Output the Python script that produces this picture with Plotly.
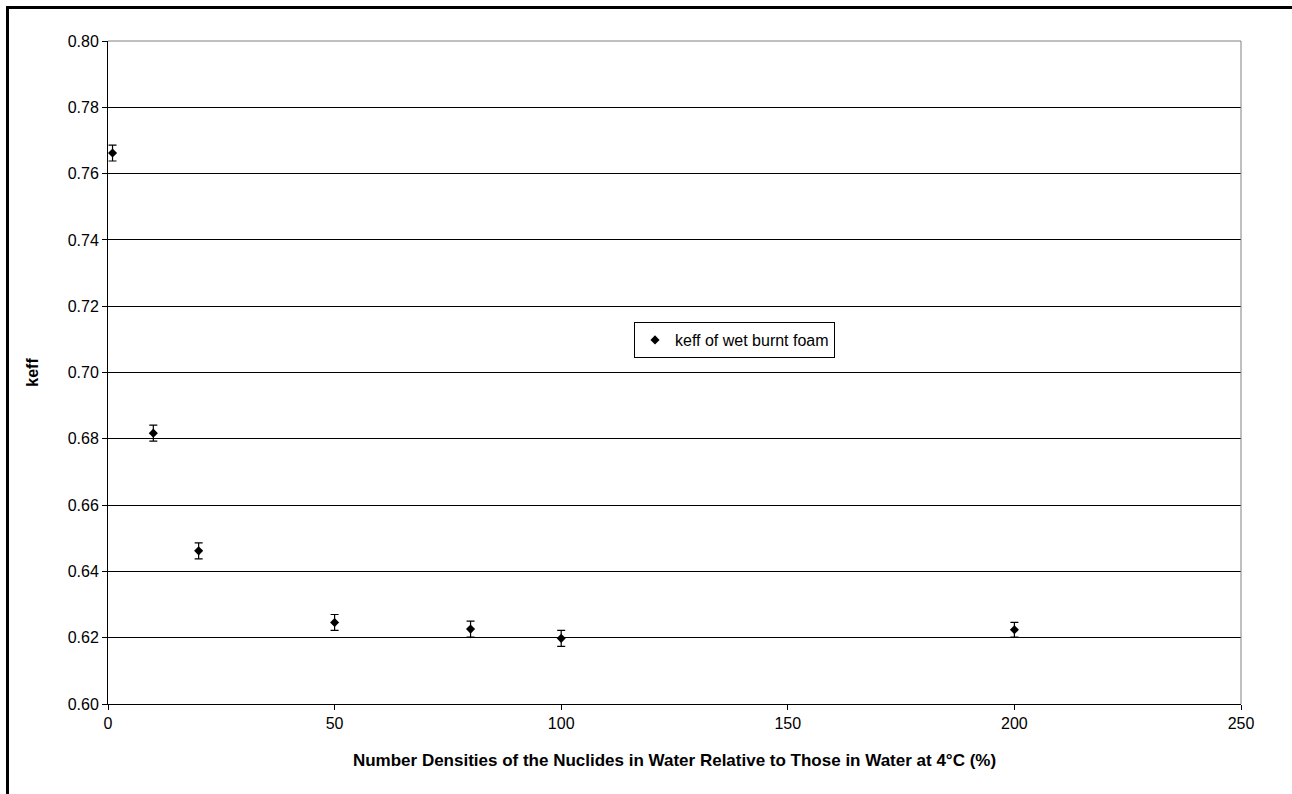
import plotly.graph_objects as go

density_pct = [1, 10, 20, 50, 80, 100, 200]
keff = [0.7662, 0.6817, 0.6462, 0.6246, 0.6226, 0.6198, 0.6224]
keff_err = [0.0024, 0.0024, 0.0024, 0.0024, 0.0024, 0.0024, 0.0022]
series_name = "keff of wet burnt foam"
x_ticks = [0, 50, 100, 150, 200, 250]
y_ticks = [0.60, 0.62, 0.64, 0.66, 0.68, 0.70, 0.72, 0.74, 0.76, 0.78, 0.80]

W, H = 1292, 794
ML, MR, MT, MB = 108, 51, 41, 90
pw, ph = W - ML - MR, H - MT - MB

fig = go.Figure()
fig.add_trace(go.Scatter(
    x=density_pct, y=keff, mode="markers", name=series_name,
    marker=dict(symbol="diamond", size=7, color="black"),
    error_y=dict(type="data", array=keff_err, visible=True, color="black",
                 thickness=1.2, width=4),
))

font = "Liberation Sans, Arial, sans-serif"
fig.update_layout(
    width=W, height=H,
    margin=dict(l=ML, r=MR, t=MT, b=MB),
    paper_bgcolor="white", plot_bgcolor="white",
    font=dict(family=font, size=16, color="black"),
    showlegend=True,
    legend=dict(x=(634 - ML) / pw, y=(H - MB - 322) / ph, xanchor="left", yanchor="top",
                bordercolor="black", borderwidth=1, bgcolor="white",
                font=dict(size=16, family=font), itemwidth=30,
                tracegroupgap=0),
    xaxis=dict(range=[0, 250], tickvals=x_ticks, ticks="outside", ticklen=5,
               tickcolor="black", showgrid=False, zeroline=False,
               showline=True, linecolor="black", linewidth=1,
               tickfont=dict(size=16),
               title=dict(text="<b>Number Densities of the Nuclides in Water Relative to Those in Water at 4°C (%)</b>",
                          font=dict(size=17), standoff=22)),
    yaxis=dict(range=[0.60, 0.80], tickvals=y_ticks, tickformat=".2f",
               ticks="outside", ticklen=5, tickcolor="black",
               showgrid=True, gridcolor="black", gridwidth=1, zeroline=False,
               showline=True, linecolor="black", linewidth=1,
               tickfont=dict(size=16),
               title=dict(text="<b>keff</b>", font=dict(size=16), standoff=25)),
    shapes=[
        # plot-area border on top and right (gray)
        dict(type="line", xref="paper", yref="paper", x0=0, x1=1, y0=1, y1=1,
             line=dict(color="#808080", width=1)),
        dict(type="line", xref="paper", yref="paper", x0=1, x1=1, y0=0, y1=1,
             line=dict(color="#808080", width=1)),
        # outer chart border (extends beyond the visible page on right/bottom)
        dict(type="rect", xref="paper", yref="paper",
             x0=(7.5 - ML) / pw, x1=(W + 20 - ML) / pw,
             y0=(H - MB - 7.5) / ph, y1=(H - MB - H - 20) / ph,
             line=dict(color="black", width=3), fillcolor="rgba(0,0,0,0)",
             layer="below"),
    ],
)

fig.write_html("out.html")
